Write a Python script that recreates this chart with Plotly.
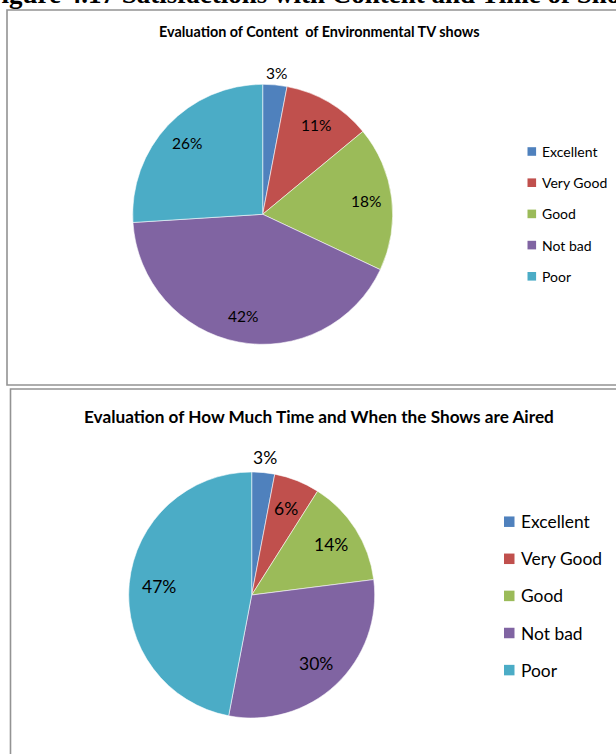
import math
import plotly.graph_objects as go

# Survey answers, shared by both charts
categories = ["Excellent", "Very Good", "Good", "Not bad", "Poor"]
content_pct = [3, 11, 18, 42, 26]
airtime_pct = [3, 6, 14, 30, 47]

heading = "Figure 4.17 Satisfactions with Content and Time of Shows Aired"
title_content = "Evaluation of Content  of Environmental TV shows"
title_airtime = "Evaluation of How Much Time and When the Shows are Aired"

colors = ["#4F81BD", "#C0504D", "#9BBB59", "#8064A2", "#4BACC6"]

W, H = 616, 754
FONT = "Lato, 'Open Sans', Arial, sans-serif"


def px(x):
    return x / W


def py(y):
    return 1 - y / H


# Layout of each panel (pixel space)
panels = [
    dict(values=content_pct, title=title_content, title_y=31, title_size=14.4,
         cx=262.7, cy=214.3, r=130, label_r=0.80, out_r=1.09, label_size=15.5,
         leg_x=527.5, leg_y=151.5, leg_step=31.2, leg_box=8.6, leg_size=14,
         box=(7, 10, 660, 385)),
    dict(values=airtime_pct, title=title_airtime, title_y=416, title_size=17.2,
         cx=251.7, cy=595, r=123, label_r=0.76, out_r=1.12, label_size=17.5,
         leg_x=504, leg_y=521.7, leg_step=37.1, leg_box=10.5, leg_size=17.4,
         box=(10.5, 389, 660, 800)),
]

fig = go.Figure()
shapes = []
# page heading running above the charts (only its lower edge is on the page)
annotations = [
    dict(text=f"<b>{heading}</b>", x=px(-17), y=py(-5.5), xref="paper", yref="paper",
         xanchor="left", yanchor="middle", showarrow=False,
         font=dict(family="'Liberation Serif', 'Times New Roman', serif", size=27, color="#000")),
]

for p in panels:
    x0, y0, x1, y1 = p["box"]
    shapes.append(dict(type="rect", xref="paper", yref="paper",
                       x0=px(x0), x1=px(x1), y0=py(y1), y1=py(y0),
                       line=dict(color="#939393", width=1.6), fillcolor="rgba(0,0,0,0)"))

    cx, cy, r = p["cx"], p["cy"], p["r"]
    fig.add_trace(go.Pie(
        labels=categories, values=p["values"], sort=False, direction="clockwise",
        rotation=0, textinfo="none", hoverinfo="label+percent", showlegend=False,
        marker=dict(colors=colors, line=dict(color="rgba(255,255,255,0.7)", width=0.8)),
        domain=dict(x=[px(cx - r), px(cx + r)], y=[py(cy + r), py(cy - r)]),
    ))

    annotations.append(dict(text=f"<b>{p['title']}</b>", x=px(319), y=py(p["title_y"]),
                            xref="paper", yref="paper", xanchor="center", yanchor="middle",
                            showarrow=False, font=dict(family=FONT, size=p["title_size"], color="#000")))

    # percentage labels placed along each slice's bisector
    total = sum(p["values"])
    cum = 0
    for v in p["values"]:
        mid = (cum + v / 2) / total * 2 * math.pi
        cum += v
        share = v / total
        d = r * (p["out_r"] if share < 0.05 else p["label_r"])
        lx = cx + d * math.sin(mid)
        ly = cy - d * math.cos(mid)
        annotations.append(dict(text=f"{round(share * 100)}%", x=px(lx), y=py(ly),
                                xref="paper", yref="paper", xanchor="center", yanchor="middle",
                                showarrow=False, font=dict(family=FONT, size=p["label_size"], color="#000")))

    # legend: colour square and category name
    for i, (cat, col) in enumerate(zip(categories, colors)):
        yc = p["leg_y"] + i * p["leg_step"]
        b = p["leg_box"]
        shapes.append(dict(type="rect", xref="paper", yref="paper",
                           x0=px(p["leg_x"]), x1=px(p["leg_x"] + b),
                           y0=py(yc + b / 2), y1=py(yc - b / 2),
                           line=dict(width=0), fillcolor=col))
        annotations.append(dict(text=cat, x=px(p["leg_x"] + b + 4), y=py(yc),
                                xref="paper", yref="paper", xanchor="left", yanchor="middle",
                                showarrow=False, font=dict(family=FONT, size=p["leg_size"], color="#000")))

fig.update_layout(
    width=W, height=H, margin=dict(l=0, r=0, t=0, b=0),
    paper_bgcolor="white", plot_bgcolor="white",
    shapes=shapes, annotations=annotations,
)

fig.write_html("out.html")
